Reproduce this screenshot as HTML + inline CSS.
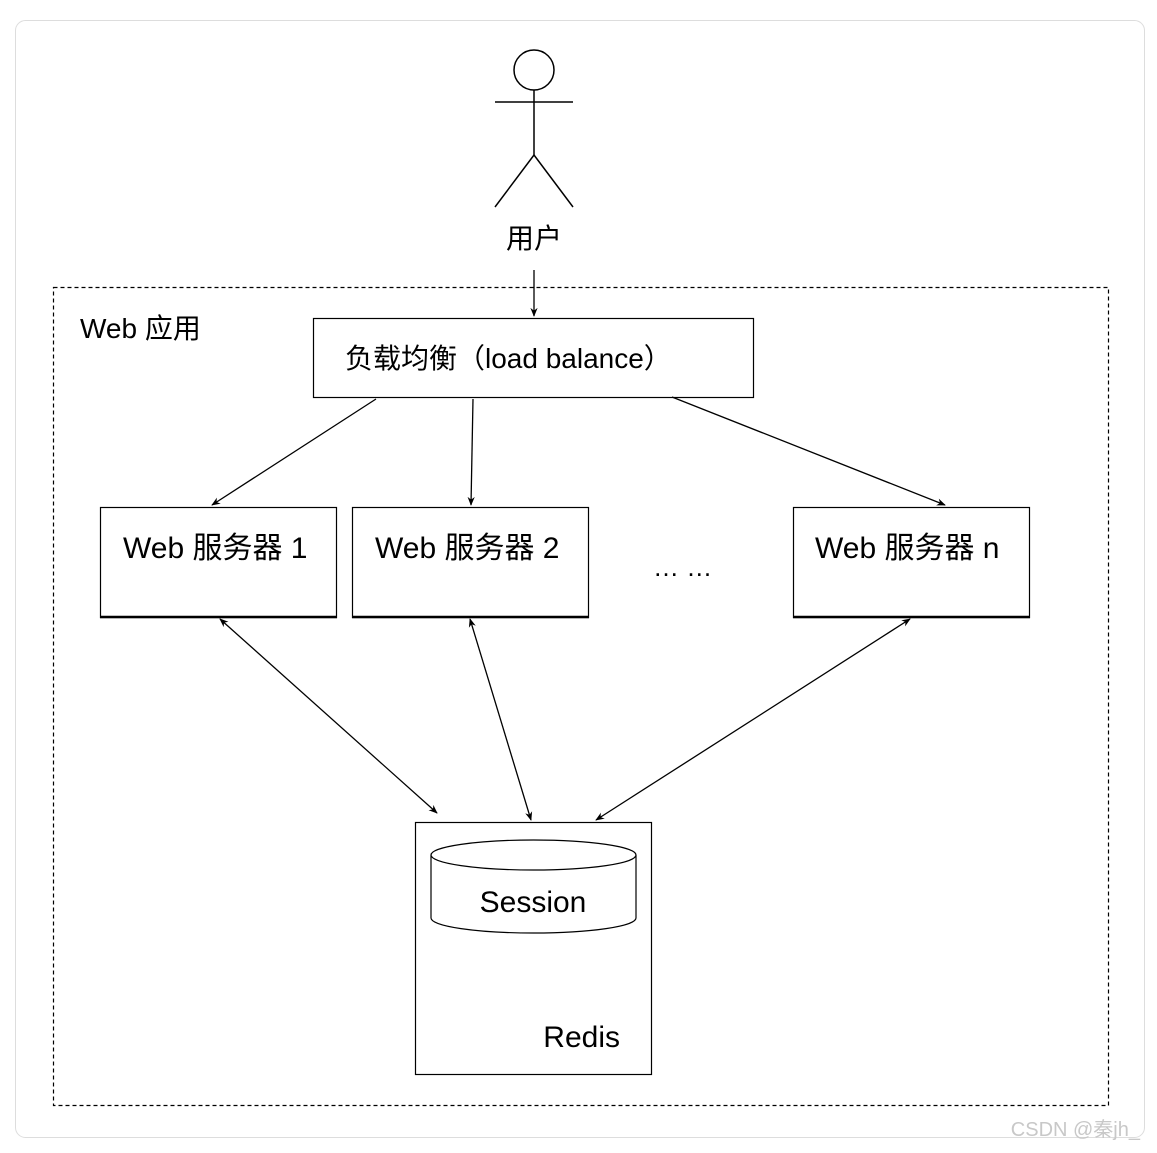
<!DOCTYPE html>
<html><head><meta charset="utf-8"><style>
html,body{margin:0;padding:0;background:#fff;}
svg text{font-family:"Liberation Sans","Noto Sans CJK SC",sans-serif;fill:#000;}
</style></head><body>
<svg width="1157" height="1148" viewBox="0 0 1157 1148" xmlns="http://www.w3.org/2000/svg">
<defs>
<marker id="a" viewBox="0 0 10 10" refX="9" refY="5" markerWidth="9" markerHeight="9" orient="auto-start-reverse" markerUnits="userSpaceOnUse">
<path d="M0,1 L10,5 L0,9 L3,5 z" fill="#000"/></marker>
</defs>
<rect x="15.5" y="20.5" width="1129" height="1117" rx="10" fill="#fff" stroke="#ddd" stroke-width="1"/>
<!-- stick figure -->
<g stroke="#000" stroke-width="1.5" fill="none">
<circle cx="534" cy="70" r="20"/>
<line x1="534" y1="90" x2="534" y2="155"/>
<line x1="495" y1="102" x2="573" y2="102"/>
<line x1="534" y1="155" x2="495" y2="207"/>
<line x1="534" y1="155" x2="573" y2="207"/>
</g>
<text x="534" y="248" font-size="28" text-anchor="middle">用户</text>
<!-- dashed container -->
<rect x="53.5" y="287.5" width="1055" height="818" fill="none" stroke="#000" stroke-width="1.2" stroke-dasharray="4,3"/>
<text x="80" y="338" font-size="28">Web 应用</text>
<!-- LB -->
<rect x="313.5" y="318.5" width="440" height="79" fill="#fff" stroke="#000" stroke-width="1.2"/>
<text x="345" y="368" font-size="28">负载均衡（load balance）</text>
<!-- web servers -->
<g stroke="#000" stroke-width="1.2" fill="#fff">
<rect x="100.5" y="507.5" width="236" height="110"/>
<rect x="352.5" y="507.5" width="236" height="110"/>
<rect x="793.5" y="507.5" width="236" height="110"/>
</g>
<g stroke="#000" stroke-width="2.5">
<line x1="100" y1="617" x2="337" y2="617"/>
<line x1="352" y1="617" x2="589" y2="617"/>
<line x1="793" y1="617" x2="1030" y2="617"/>
</g>
<text x="123" y="558" font-size="30">Web 服务器 1</text>
<text x="375" y="558" font-size="30">Web 服务器 2</text>
<text x="815" y="558" font-size="30">Web 服务器 n</text>
<text x="653" y="576" font-size="26">… …</text>
<!-- redis -->
<rect x="415.5" y="822.5" width="236" height="252" fill="#fff" stroke="#000" stroke-width="1.2"/>
<g stroke="#000" stroke-width="1.2" fill="#fff">
<path d="M431,855 L431,918 A102.5,15 0 0 0 636,918 L636,855"/>
<ellipse cx="533.5" cy="855" rx="102.5" ry="15"/>
</g>
<text x="533" y="912" font-size="30" text-anchor="middle">Session</text>
<text x="620" y="1047" font-size="30" text-anchor="end">Redis</text>
<!-- arrows -->
<g stroke="#000" stroke-width="1.3" fill="none">
<line x1="534" y1="270" x2="534" y2="316" marker-end="url(#a)"/>
<line x1="376" y1="399" x2="212" y2="505" marker-end="url(#a)"/>
<line x1="473" y1="399" x2="471" y2="505" marker-end="url(#a)"/>
<line x1="672" y1="397" x2="945" y2="505" marker-end="url(#a)"/>
<line x1="220" y1="619" x2="437" y2="813" marker-start="url(#a)" marker-end="url(#a)"/>
<line x1="470" y1="619" x2="531" y2="820" marker-start="url(#a)" marker-end="url(#a)"/>
<line x1="910" y1="619" x2="596" y2="820" marker-start="url(#a)" marker-end="url(#a)"/>
</g>
<text x="1140" y="1136" font-size="20" text-anchor="end" style="fill:#c8c8c8">CSDN @秦jh_</text>
</svg>
</body></html>
